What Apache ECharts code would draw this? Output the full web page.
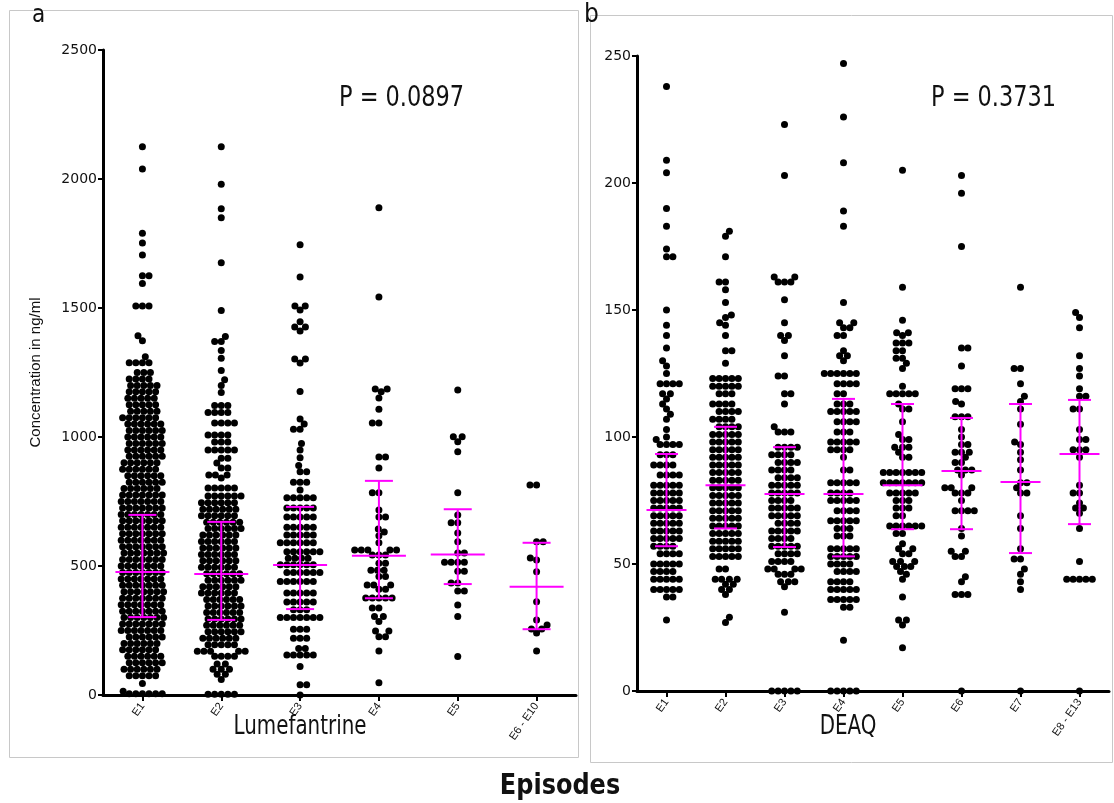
<!DOCTYPE html>
<html><head><meta charset="utf-8">
<script src="https://cdn.jsdelivr.net/npm/echarts@6/dist/echarts.min.js"></script>
<style>html,body{margin:0;padding:0;background:#fff}#c{width:1114px;height:803px}</style>
</head><body><div id="c"></div>
<script>
// ---------- DATA ([value, number of dots at that value]) ----------
var lumCategories = ['E1','E2','E3','E4','E5','E6 - E10'];
var deaqCategories = ['E1','E2','E3','E4','E5','E6','E7','E8 - E13'];

var lumE1 = [[2125,1],[2039,1],[1790,1],[1752,1],[1705,1],[1625,2],[1595,1],[1508,3],[1392,1],[1373,1],[1311,1],[1288,4],[1250,3],[1225,4],[1200,5],[1175,5],[1150,5],[1125,5],[1100,5],[1075,6],[1050,6],[1025,6],[1000,6],[975,6],[950,6],[925,6],[900,6],[875,6],[850,6],[825,6],[800,6],[775,7],[750,7],[725,7],[700,7],[675,7],[650,7],[625,7],[600,7],[575,7],[550,7],[525,7],[500,7],[475,7],[450,7],[425,7],[400,7],[375,7],[350,7],[325,7],[300,7],[275,7],[250,7],[225,6],[200,6],[175,6],[150,6],[125,6],[100,6],[75,5],[45,1],[15,1],[5,6]];
var lumE2 = [[2125,1],[1980,1],[1885,1],[1850,1],[1675,1],[1490,1],[1390,1],[1370,2],[1335,1],[1305,1],[1258,1],[1222,1],[1200,1],[1172,1],[1122,3],[1095,4],[1054,4],[1008,4],[981,3],[950,5],[918,2],[899,1],[880,2],[853,3],[841,1],[802,5],[771,6],[745,6],[720,6],[695,6],[670,6],[645,6],[620,6],[595,6],[570,6],[545,6],[520,6],[495,6],[470,6],[445,6],[420,6],[395,6],[370,6],[345,6],[320,6],[295,6],[270,6],[245,6],[220,6],[195,5],[170,5],[150,4],[120,2],[100,3],[80,2],[60,1],[3,5]];
var lumE3 = [[1745,1],[1620,1],[1508,2],[1492,1],[1447,1],[1426,2],[1411,1],[1302,2],[1287,1],[1176,1],[1070,1],[1050,1],[1030,2],[975,1],[950,1],[920,1],[890,1],[865,2],[825,3],[795,1],[765,5],[725,5],[690,5],[650,5],[620,5],[590,6],[555,6],[530,4],[505,6],[475,6],[440,6],[395,5],[360,5],[330,3],[300,7],[255,3],[220,3],[180,2],[155,5],[110,1],[40,2],[0,1]];
var lumE4 = [[1889,1],[1543,1],[1186,2],[1175,1],[1151,1],[1108,1],[1054,2],[922,2],[880,1],[784,2],[717,1],[690,2],[643,1],[632,1],[617,1],[590,1],[562,5],[543,3],[511,2],[484,3],[459,2],[426,3],[410,2],[376,5],[337,2],[304,2],[285,1],[248,2],[226,2],[171,1],[47,1]];
var lumE5 = [[1182,1],[1001,2],[982,1],[943,1],[784,1],[698,1],[668,2],[628,1],[594,1],[550,2],[515,4],[480,2],[434,2],[403,2],[349,1],[304,1],[149,1]];
var lumE6 = [[814,2],[594,2],[531,1],[523,1],[478,1],[361,1],[291,1],[271,1],[256,2],[240,1],[171,1]];
var lumQ1 = [302, 291, 333, 375, 430, 255];
var lumMedian = [477, 469, 504, 540, 545, 420];
var lumQ3 = [698, 671, 729, 830, 720, 590];

var deaqE1 = [[238,1],[209,1],[204,1],[190,1],[183,1],[174,1],[171,2],[150,1],[144,1],[140,1],[135,1],[130,1],[128,1],[125,1],[121,4],[117,2],[115,1],[113,1],[111,1],[109,1],[107,1],[103,1],[100,1],[99,1],[97,4],[93,3],[89,4],[85,4],[81,5],[78,5],[75,5],[72,5],[69,5],[66,5],[63,5],[60,5],[57,4],[54,4],[50,5],[47,4],[44,5],[40,5],[37,2],[28,1]];
var deaqE2 = [[181,1],[179,1],[171,1],[161,2],[158,1],[153,1],[148,1],[147,1],[145,1],[144,1],[140,1],[134,2],[129,1],[123,5],[120,5],[117,3],[113,4],[110,4],[107,4],[104,4],[101,5],[98,5],[95,5],[92,5],[89,5],[86,5],[83,5],[80,5],[77,5],[74,5],[71,5],[68,5],[65,5],[62,5],[59,5],[56,5],[53,5],[48,2],[44,4],[42,2],[40,2],[38,1],[29,1],[27,1]];
var deaqE3 = [[223,1],[203,1],[163,2],[161,3],[154,1],[145,1],[140,2],[138,1],[132,1],[124,2],[117,2],[113,1],[104,1],[102,3],[96,4],[93,4],[90,4],[87,4],[84,4],[81,5],[78,5],[75,4],[72,5],[69,5],[66,4],[63,5],[60,4],[57,5],[54,4],[51,4],[48,4],[46,3],[43,3],[41,1],[31,1],[0,5]];
var deaqE4 = [[247,1],[226,1],[208,1],[189,1],[183,1],[153,1],[145,2],[143,2],[140,2],[134,1],[132,2],[130,1],[125,6],[121,4],[117,2],[113,3],[110,5],[106,4],[102,3],[98,5],[95,4],[92,1],[87,2],[82,5],[78,4],[75,5],[71,4],[67,5],[64,3],[61,3],[56,5],[53,5],[50,4],[47,4],[43,4],[40,5],[36,5],[33,2],[20,1],[0,5]];
var deaqE5 = [[205,1],[159,1],[146,1],[141,2],[140,1],[137,3],[134,2],[131,2],[129,1],[127,1],[120,1],[117,5],[113,1],[111,2],[106,1],[101,1],[99,2],[96,3],[94,1],[92,2],[86,7],[82,7],[78,5],[75,3],[72,3],[69,2],[65,6],[62,2],[58,1],[56,2],[54,2],[51,3],[49,3],[47,1],[46,1],[44,1],[37,1],[28,2],[26,1],[17,1]];
var deaqE6 = [[203,1],[196,1],[175,1],[135,2],[128,1],[119,3],[114,1],[113,1],[108,3],[103,1],[100,1],[97,2],[94,3],[92,1],[90,2],[87,3],[85,1],[80,3],[78,3],[75,1],[71,4],[64,1],[61,1],[55,2],[53,2],[45,1],[43,1],[38,3],[0,1]];
var deaqE7 = [[159,1],[127,2],[121,1],[116,1],[114,1],[111,1],[105,1],[98,1],[97,1],[94,1],[91,1],[87,1],[82,2],[80,1],[78,2],[69,1],[64,1],[56,1],[52,2],[48,1],[46,1],[43,1],[40,1],[0,1]];
var deaqE8 = [[149,1],[147,1],[143,1],[132,1],[127,1],[124,1],[119,1],[116,2],[111,2],[103,1],[99,2],[95,3],[92,1],[81,1],[78,2],[74,1],[72,2],[70,1],[64,1],[51,1],[44,5],[0,1]];
var deaqQ1 = [57, 64, 56.7, 53, 63.7, 63.7, 54.3, 65.7];
var deaqMedian = [71.3, 81, 77.6, 77.6, 81, 86.6, 82.3, 93.3];
var deaqQ3 = [93.3, 104, 96, 115, 113, 107.5, 113, 114.6];

// ---------- LAYOUT ----------
var LG = {left: 103, top: 50, width: 473, height: 645, max: 2500, gap: 6.6};
var RG = {left: 637, top: 56, width: 472, height: 635, max: 250, gap: 6.4};
var DOT = 7, MAG = '#ff00ff';
var TITLE_FONT = '"Liberation Sans Narrow","DejaVu Sans Condensed","Liberation Sans",sans-serif';

// beeswarm: horizontal spreading computed from the values through the axis scale
function swarm(rows, idx, g, nCat) {
  var ky = g.height / g.max, band = g.width / nCat, GAP = g.gap;
  var vals = [];
  rows.forEach(function (r) { for (var i = 0; i < r[1]; i++) vals.push(r[0]); });
  vals.sort(function (a, b) { return a - b; });
  var placed = [], out = [], side = 1;
  vals.forEach(function (v) {
    var y = v * ky, d2 = GAP * GAP;
    var near = placed.filter(function (p) { return Math.abs(p.y - y) < GAP; });
    var cands = [0];
    near.forEach(function (p) { var dx = Math.sqrt(d2 - (p.y - y) * (p.y - y)); cands.push(p.x + dx, p.x - dx); });
    cands.sort(function (a, b) { var d = Math.abs(a) - Math.abs(b); return Math.abs(d) > 1e-6 ? d : side * (b - a); });
    var x = 0;
    for (var k = 0; k < cands.length; k++) {
      var c = cands[k];
      if (near.every(function (p) { return (p.x - c) * (p.x - c) + (p.y - y) * (p.y - y) >= d2 - 1e-6; })) { x = c; break; }
    }
    if (x !== 0) side = -side;
    placed.push({x: x, y: y});
    out.push([idx + x / band, v]);
  });
  return out;
}

var lumGroups = [lumE1, lumE2, lumE3, lumE4, lumE5, lumE6];
var deaqGroups = [deaqE1, deaqE2, deaqE3, deaqE4, deaqE5, deaqE6, deaqE7, deaqE8];
var lumPts = [], deaqPts = [];
lumGroups.forEach(function (g, i) { lumPts = lumPts.concat(swarm(g, i, LG, lumCategories.length)); });
deaqGroups.forEach(function (g, i) { deaqPts = deaqPts.concat(swarm(g, i, RG, deaqCategories.length)); });
var lumStats = lumCategories.map(function (c, i) { return [i, lumQ1[i], lumMedian[i], lumQ3[i]]; });
var deaqStats = deaqCategories.map(function (c, i) { return [i, deaqQ1[i], deaqMedian[i], deaqQ3[i]]; });

function errRender(medHalf, capHalf) {
  return function (params, api) {
    var x = api.value(0);
    var a = api.coord([x, api.value(1)]), m = api.coord([x, api.value(2)]), b = api.coord([x, api.value(3)]);
    var st = {stroke: MAG, lineWidth: 2};
    return {type: 'group', children: [
      {type: 'line', shape: {x1: a[0], y1: a[1], x2: b[0], y2: b[1]}, style: st},
      {type: 'line', shape: {x1: a[0] - capHalf, y1: a[1], x2: a[0] + capHalf, y2: a[1]}, style: st},
      {type: 'line', shape: {x1: b[0] - capHalf, y1: b[1], x2: b[0] + capHalf, y2: b[1]}, style: st},
      {type: 'line', shape: {x1: m[0] - medHalf, y1: m[1], x2: m[0] + medHalf, y2: m[1]}, style: st}
    ]};
  };
}

var tickStyle = {show: true, length: 5, lineStyle: {color: '#000', width: 2}};
var yLabel = {color: '#111', fontSize: 14, fontFamily: '"DejaVu Sans",sans-serif', margin: 6, formatter: function (v) { return String(v); }};
var xLabel = {color: '#111', fontSize: 11, fontFamily: '"Liberation Sans",Arial,sans-serif', rotate: 55, margin: 9, interval: 0};

function catAxis(gi, cats) {
  return {type: 'category', gridIndex: gi, data: cats, boundaryGap: true, position: 'bottom',
    axisLine: {show: true, onZero: false, lineStyle: {color: '#000', width: 3}},
    axisTick: {show: true, alignWithLabel: true, length: 6, lineStyle: {color: '#000', width: 2}},
    axisLabel: xLabel, splitLine: {show: false}};
}
function valXAxis(gi, n) {
  return {type: 'value', gridIndex: gi, min: -0.5, max: n - 0.5, show: false, splitLine: {show: false}, axisLine: {onZero: false}};
}

var option = {
  animation: false,
  backgroundColor: '#fff',
  grid: [
    {left: LG.left, top: LG.top, width: LG.width, height: LG.height, containLabel: false},
    {left: RG.left, top: RG.top, width: RG.width, height: RG.height, containLabel: false}
  ],
  xAxis: [catAxis(0, lumCategories), valXAxis(0, lumCategories.length), catAxis(1, deaqCategories), valXAxis(1, deaqCategories.length)],
  yAxis: [
    {type: 'value', gridIndex: 0, min: 0, max: 2500, interval: 500, position: 'left',
     axisLine: {show: true, onZero: false, lineStyle: {color: '#000', width: 3}},
     axisTick: tickStyle, axisLabel: yLabel, splitLine: {show: false},
     name: 'Concentration in ng/ml', nameLocation: 'middle', nameGap: 60,
     nameTextStyle: {color: '#111', fontSize: 15, fontFamily: '"Liberation Sans",Arial,sans-serif'}},
    {type: 'value', gridIndex: 1, min: 0, max: 250, interval: 50, position: 'left',
     axisLine: {show: true, onZero: false, lineStyle: {color: '#000', width: 3}},
     axisTick: tickStyle, axisLabel: yLabel, splitLine: {show: false}}
  ],
  series: [
    {type: 'scatter', xAxisIndex: 1, yAxisIndex: 0, data: lumPts, symbolSize: DOT, itemStyle: {color: '#000', opacity: 1}, z: 3, silent: true},
    {type: 'scatter', xAxisIndex: 3, yAxisIndex: 1, data: deaqPts, symbolSize: DOT, itemStyle: {color: '#000', opacity: 1}, z: 3, silent: true},
    {type: 'custom', xAxisIndex: 1, yAxisIndex: 0, data: lumStats, renderItem: errRender(27, 14), encode: {x: 0, y: [1, 2, 3]}, z: 5, silent: true},
    {type: 'custom', xAxisIndex: 3, yAxisIndex: 1, data: deaqStats, renderItem: errRender(20, 11.5), encode: {x: 0, y: [1, 2, 3]}, z: 5, silent: true}
  ],
  graphic: [
    {type: 'rect', shape: {x: 9.5, y: 10.5, width: 569, height: 747}, style: {fill: 'none', stroke: '#c8c8c8', lineWidth: 1}, z: -1},
    {type: 'rect', shape: {x: 590.5, y: 15.5, width: 522, height: 747}, style: {fill: 'none', stroke: '#c8c8c8', lineWidth: 1}, z: -1},
    {type: 'text', left: 32, top: 4, style: {text: 'a', font: '24px ' + TITLE_FONT, fill: '#111'}},
    {type: 'text', left: 584, top: 2, style: {text: 'b', font: '26px ' + TITLE_FONT, fill: '#111'}},
    {type: 'text', x: 339, y: 84, scaleX: 0.86, style: {text: 'P = 0.0897', font: '29px ' + TITLE_FONT, fill: '#111'}},
    {type: 'text', x: 931, y: 84, scaleX: 0.86, style: {text: 'P = 0.3731', font: '29px ' + TITLE_FONT, fill: '#111'}},
    {type: 'text', x: 300, y: 727, scaleX: 0.85, style: {text: 'Lumefantrine', font: '26px ' + TITLE_FONT, fill: '#111', textAlign: 'center', textVerticalAlign: 'middle'}},
    {type: 'text', x: 848, y: 727, scaleX: 0.85, style: {text: 'DEAQ', font: '26px ' + TITLE_FONT, fill: '#111', textAlign: 'center', textVerticalAlign: 'middle'}},
    {type: 'text', x: 560, y: 786, scaleX: 0.92, style: {text: 'Episodes', font: 'bold 29px ' + TITLE_FONT, fill: '#111', textAlign: 'center', textVerticalAlign: 'middle'}}
  ]
};
var chart = echarts.init(document.getElementById('c'), null, {renderer: 'canvas'});
chart.setOption(option);
</script>
</body></html>
